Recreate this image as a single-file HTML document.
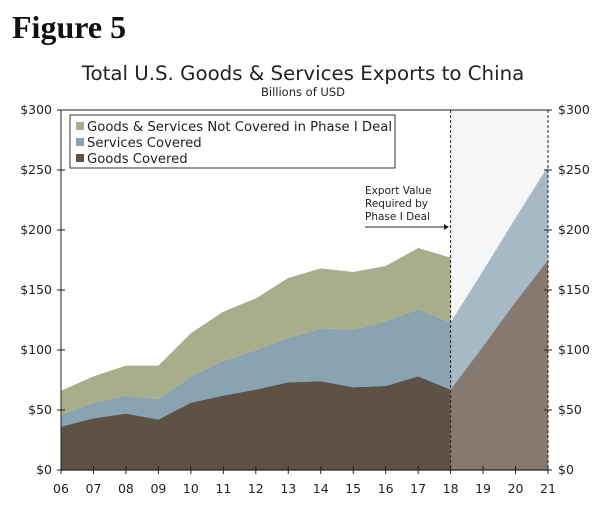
<!DOCTYPE html>
<html><head><meta charset="utf-8"><style>
body{margin:0;background:#fff;width:600px;height:510px;overflow:hidden;font-family:"DejaVu Sans","Liberation Sans",sans-serif}
</style></head><body>
<svg width="600" height="510" xmlns="http://www.w3.org/2000/svg">
<text x="12" y="38" font-family="Liberation Serif,serif" font-weight="bold" font-size="32" fill="#111">Figure 5</text>
<text x="303" y="80" text-anchor="middle" font-size="19.8" fill="#222">Total U.S. Goods &amp; Services Exports to China</text>
<text x="303" y="96" text-anchor="middle" font-size="11.5" fill="#222">Billions of USD</text>
<rect x="451" y="110" width="97" height="360" fill="#f5f6f8"/>
<g id="areas"></g>
<g id="axes"></g>
<g>
<rect x="70" y="115" width="325" height="53" fill="#fff" stroke="#333" stroke-width="1"/>
<rect x="76" y="122" width="8" height="8" fill="#a9ae8a"/>
<text x="87" y="131" font-size="13.2" textLength="305" fill="#222">Goods &amp; Services Not Covered in Phase I Deal</text>
<rect x="76" y="138" width="8" height="8" fill="#8aa3b0"/>
<text x="87" y="147" font-size="13.2" fill="#222">Services Covered</text>
<rect x="76" y="154" width="8" height="8" fill="#5e5247"/>
<text x="87" y="163" font-size="13.2" fill="#222">Goods Covered</text>
</g>
<g>
<text x="365" y="194" font-size="10.5" fill="#222">Export Value</text>
<text x="365" y="207" font-size="10.5" fill="#222">Required by</text>
<text x="365" y="220" font-size="10.5" fill="#222">Phase I Deal</text>
<line x1="365" y1="227" x2="444" y2="227" stroke="#222" stroke-width="1"/>
<path d="M444,224 L449,227 L444,230Z" fill="#222"/>
</g>
</svg>
<script>
const years=["06","07","08","09","10","11","12","13","14","15","16","17","18","19","20","21"];
const goods=[36,43,47,42,56,62,67,73,74,69,70,78,67];
const services=[10,13,15,17,22,29,33,37,44,48,54,56,56];
const notCovered=[20,22,25,28,36,41,43,50,50,48,46,51,54];
const projYears=["18","19","20","21"];
const projGoods=[67,103,140,175];
const projServices=[56,63,70,78];
const yTicks=[0,50,100,150,200,250,300];
const NS="http://www.w3.org/2000/svg";
const L=61,R=548,T=110,B=470;
const x=i=>L+i*(R-L)/(years.length-1);
const xy=yr=>x(years.indexOf(yr));
const y=v=>B-(v-0)*(B-T)/300;
const areas=document.getElementById('areas'),axes=document.getElementById('axes');
function area(xs,lo,hi,fill,name){
  let d='M'+xs.map((xx,i)=>xx+','+y(hi[i])).join(' L');
  for(let i=xs.length-1;i>=0;i--)d+=' L'+xs[i]+','+y(lo[i]);
  const p=document.createElementNS(NS,'path');p.setAttribute('d',d+'Z');p.setAttribute('fill',fill);
  
  
  areas.appendChild(p);
}
const hx=goods.map((_,i)=>x(i));
const zero=goods.map(()=>0);
const s1=goods.map((g,i)=>g+services[i]);
const s2=s1.map((s,i)=>s+notCovered[i]);
area(hx,s1,s2,'#a9ae8a','area-not-covered');
area(hx,goods,s1,'#8aa3b0','area-services');
area(hx,zero,goods,'#5e5247','area-goods');
const px=projYears.map(xy);
const ps1=projGoods.map((g,i)=>g+projServices[i]);
area(px,projGoods,ps1,'#a7b9c5','area-projected-services');
area(px,projYears.map(()=>0),projGoods,'#857970','area-projected-goods');
function line(x1,y1,x2,y2,w,dash,name){const l=document.createElementNS(NS,'line');
l.setAttribute('x1',x1);l.setAttribute('y1',y1);l.setAttribute('x2',x2);l.setAttribute('y2',y2);
l.setAttribute('stroke','#222');l.setAttribute('stroke-width',w);if(dash)l.setAttribute('stroke-dasharray',dash);


axes.appendChild(l);}
function text(tx,ty,s,anchor,name){const t=document.createElementNS(NS,'text');t.setAttribute('x',tx);t.setAttribute('y',ty);
t.setAttribute('text-anchor',anchor);t.setAttribute('font-size','12.5');t.setAttribute('fill','#222');t.textContent=s;


axes.appendChild(t);}
line(L,T,R,T,1,null,'top-border');
line(L,T,L,B,1,null,'y-axis-left');
line(R,T,R,B,1,'3,2','y-axis-right');
line(xy("18"),T,xy("18"),B,1,'3,2','projection-divider');
line(L,B,R,B,1.2,null,'x-axis');
yTicks.forEach(v=>{line(L-4,y(v),L+4,y(v),1,null,'y-tick-left');line(R-4,y(v),R+4,y(v),1,null,'y-tick-right');
text(L-9,y(v)+4,'$'+v,'end','y-tick-label-left');text(R+10,y(v)+4,'$'+v,'start','y-tick-label-right');});
years.forEach((yr,i)=>{line(x(i),B-4,x(i),B+4,1,null,'x-tick');text(x(i),B+23,yr,'middle','x-tick-label');});
</script>
</body></html>
